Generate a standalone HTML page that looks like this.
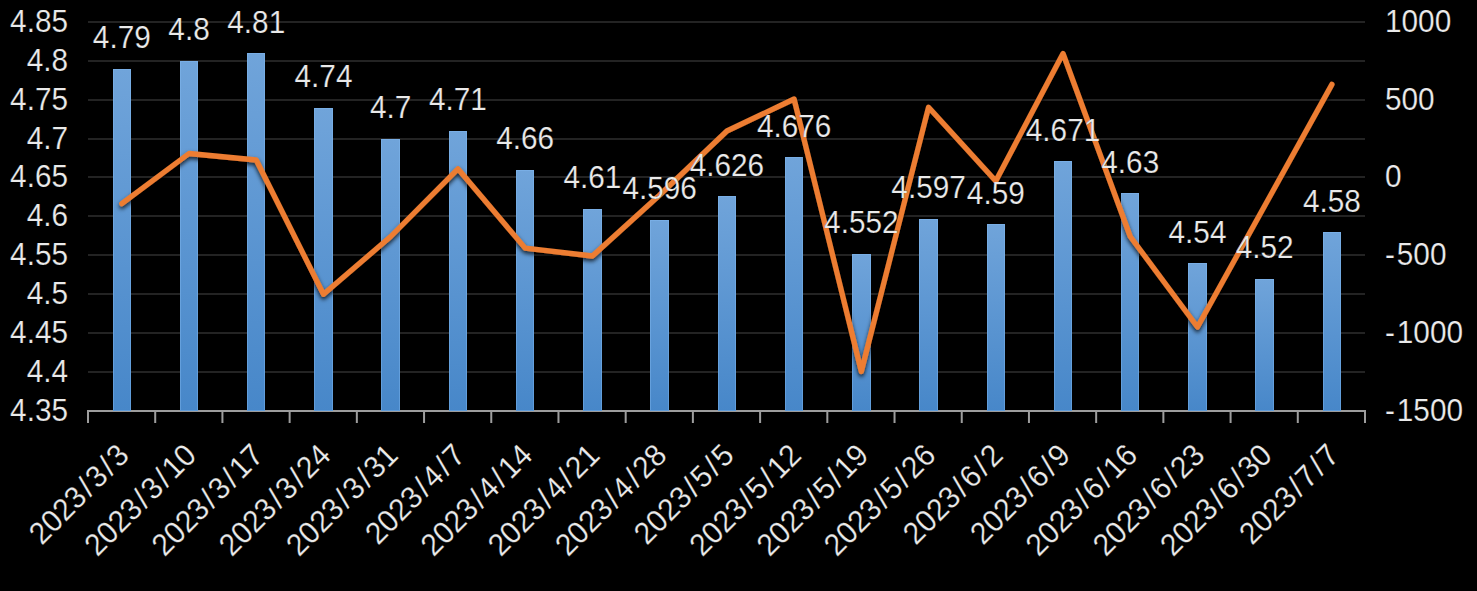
<!DOCTYPE html><html><head><meta charset="utf-8"><style>html,body{margin:0;padding:0;background:#000;width:1477px;height:591px;overflow:hidden}svg{display:block}text{font-family:"Liberation Sans",sans-serif;font-size:31px;fill:#eaeaea;stroke:#000;stroke-width:0.2px}</style></head><body>
<svg width="1477" height="591" viewBox="0 0 1477 591">
<defs><linearGradient id="bg" x1="0" y1="0" x2="0" y2="1"><stop offset="0" stop-color="#70a4da"/><stop offset="1" stop-color="#4787c9"/></linearGradient><filter id="sh" x="-5%" y="-5%" width="110%" height="120%"><feDropShadow dx="0" dy="2.5" stdDeviation="2.2" flood-color="#000" flood-opacity="0.8"/></filter></defs>
<rect width="1477" height="591" fill="#000"/>
<rect x="88.0" y="21" width="1277.0" height="2" fill="#232323"/>
<rect x="88.0" y="60" width="1277.0" height="2" fill="#232323"/>
<rect x="88.0" y="99" width="1277.0" height="2" fill="#232323"/>
<rect x="88.0" y="138" width="1277.0" height="2" fill="#232323"/>
<rect x="88.0" y="176" width="1277.0" height="2" fill="#232323"/>
<rect x="88.0" y="215" width="1277.0" height="2" fill="#232323"/>
<rect x="88.0" y="254" width="1277.0" height="2" fill="#232323"/>
<rect x="88.0" y="293" width="1277.0" height="2" fill="#232323"/>
<rect x="88.0" y="332" width="1277.0" height="2" fill="#232323"/>
<rect x="88.0" y="371" width="1277.0" height="2" fill="#232323"/>
<rect x="87.0" y="410.0" width="1279.0" height="2" fill="#9d9d9d"/>
<rect x="87.00" y="410.0" width="2" height="13.0" fill="#9d9d9d"/>
<rect x="154.21" y="410.0" width="2" height="13.0" fill="#9d9d9d"/>
<rect x="221.42" y="410.0" width="2" height="13.0" fill="#9d9d9d"/>
<rect x="288.63" y="410.0" width="2" height="13.0" fill="#9d9d9d"/>
<rect x="355.84" y="410.0" width="2" height="13.0" fill="#9d9d9d"/>
<rect x="423.05" y="410.0" width="2" height="13.0" fill="#9d9d9d"/>
<rect x="490.26" y="410.0" width="2" height="13.0" fill="#9d9d9d"/>
<rect x="557.47" y="410.0" width="2" height="13.0" fill="#9d9d9d"/>
<rect x="624.68" y="410.0" width="2" height="13.0" fill="#9d9d9d"/>
<rect x="691.89" y="410.0" width="2" height="13.0" fill="#9d9d9d"/>
<rect x="759.11" y="410.0" width="2" height="13.0" fill="#9d9d9d"/>
<rect x="826.32" y="410.0" width="2" height="13.0" fill="#9d9d9d"/>
<rect x="893.53" y="410.0" width="2" height="13.0" fill="#9d9d9d"/>
<rect x="960.74" y="410.0" width="2" height="13.0" fill="#9d9d9d"/>
<rect x="1027.95" y="410.0" width="2" height="13.0" fill="#9d9d9d"/>
<rect x="1095.16" y="410.0" width="2" height="13.0" fill="#9d9d9d"/>
<rect x="1162.37" y="410.0" width="2" height="13.0" fill="#9d9d9d"/>
<rect x="1229.58" y="410.0" width="2" height="13.0" fill="#9d9d9d"/>
<rect x="1296.79" y="410.0" width="2" height="13.0" fill="#9d9d9d"/>
<rect x="1364.00" y="410.0" width="2" height="13.0" fill="#9d9d9d"/>
<rect x="113" y="69.00" width="18" height="342.00" fill="url(#bg)"/>
<rect x="113.50" y="69.50" width="17" height="341.00" fill="none" stroke="rgba(135,190,245,0.4)" stroke-width="1"/>
<rect x="180" y="61.00" width="18" height="350.00" fill="url(#bg)"/>
<rect x="180.50" y="61.50" width="17" height="349.00" fill="none" stroke="rgba(135,190,245,0.4)" stroke-width="1"/>
<rect x="247" y="53.00" width="18" height="358.00" fill="url(#bg)"/>
<rect x="247.50" y="53.50" width="17" height="357.00" fill="none" stroke="rgba(135,190,245,0.4)" stroke-width="1"/>
<rect x="314" y="108.00" width="19" height="303.00" fill="url(#bg)"/>
<rect x="314.50" y="108.50" width="18" height="302.00" fill="none" stroke="rgba(135,190,245,0.4)" stroke-width="1"/>
<rect x="381" y="139.00" width="19" height="272.00" fill="url(#bg)"/>
<rect x="381.50" y="139.50" width="18" height="271.00" fill="none" stroke="rgba(135,190,245,0.4)" stroke-width="1"/>
<rect x="449" y="131.00" width="18" height="280.00" fill="url(#bg)"/>
<rect x="449.50" y="131.50" width="17" height="279.00" fill="none" stroke="rgba(135,190,245,0.4)" stroke-width="1"/>
<rect x="516" y="170.00" width="18" height="241.00" fill="url(#bg)"/>
<rect x="516.50" y="170.50" width="17" height="240.00" fill="none" stroke="rgba(135,190,245,0.4)" stroke-width="1"/>
<rect x="583" y="209.00" width="19" height="202.00" fill="url(#bg)"/>
<rect x="583.50" y="209.50" width="18" height="201.00" fill="none" stroke="rgba(135,190,245,0.4)" stroke-width="1"/>
<rect x="650" y="220.00" width="19" height="191.00" fill="url(#bg)"/>
<rect x="650.50" y="220.50" width="18" height="190.00" fill="none" stroke="rgba(135,190,245,0.4)" stroke-width="1"/>
<rect x="718" y="196.00" width="18" height="215.00" fill="url(#bg)"/>
<rect x="718.50" y="196.50" width="17" height="214.00" fill="none" stroke="rgba(135,190,245,0.4)" stroke-width="1"/>
<rect x="785" y="157.00" width="18" height="254.00" fill="url(#bg)"/>
<rect x="785.50" y="157.50" width="17" height="253.00" fill="none" stroke="rgba(135,190,245,0.4)" stroke-width="1"/>
<rect x="852" y="254.00" width="19" height="157.00" fill="url(#bg)"/>
<rect x="852.50" y="254.50" width="18" height="156.00" fill="none" stroke="rgba(135,190,245,0.4)" stroke-width="1"/>
<rect x="919" y="219.00" width="19" height="192.00" fill="url(#bg)"/>
<rect x="919.50" y="219.50" width="18" height="191.00" fill="none" stroke="rgba(135,190,245,0.4)" stroke-width="1"/>
<rect x="987" y="224.00" width="18" height="187.00" fill="url(#bg)"/>
<rect x="987.50" y="224.50" width="17" height="186.00" fill="none" stroke="rgba(135,190,245,0.4)" stroke-width="1"/>
<rect x="1054" y="161.00" width="18" height="250.00" fill="url(#bg)"/>
<rect x="1054.50" y="161.50" width="17" height="249.00" fill="none" stroke="rgba(135,190,245,0.4)" stroke-width="1"/>
<rect x="1121" y="193.00" width="18" height="218.00" fill="url(#bg)"/>
<rect x="1121.50" y="193.50" width="17" height="217.00" fill="none" stroke="rgba(135,190,245,0.4)" stroke-width="1"/>
<rect x="1188" y="263.00" width="19" height="148.00" fill="url(#bg)"/>
<rect x="1188.50" y="263.50" width="18" height="147.00" fill="none" stroke="rgba(135,190,245,0.4)" stroke-width="1"/>
<rect x="1255" y="279.00" width="19" height="132.00" fill="url(#bg)"/>
<rect x="1255.50" y="279.50" width="18" height="131.00" fill="none" stroke="rgba(135,190,245,0.4)" stroke-width="1"/>
<rect x="1323" y="232.00" width="18" height="179.00" fill="url(#bg)"/>
<rect x="1323.50" y="232.50" width="17" height="178.00" fill="none" stroke="rgba(135,190,245,0.4)" stroke-width="1"/>
<polyline points="121.80,203.60 189.03,153.50 256.26,160.00 323.49,294.30 390.72,236.50 457.95,168.80 525.18,248.10 592.41,256.00 659.64,195.00 726.87,131.00 794.10,99.00 861.33,371.50 928.56,107.20 995.79,181.00 1063.02,53.50 1130.25,236.50 1197.48,327.00 1264.71,205.70 1331.94,84.40" fill="none" stroke="#ed7d31" stroke-width="5.3" stroke-linejoin="round" stroke-linecap="round" filter="url(#sh)"/>
<text transform="translate(68.00,31.80) scale(0.96,1)" text-anchor="end">4.85</text>
<text transform="translate(68.00,70.70) scale(0.96,1)" text-anchor="end">4.8</text>
<text transform="translate(68.00,109.60) scale(0.96,1)" text-anchor="end">4.75</text>
<text transform="translate(68.00,148.50) scale(0.96,1)" text-anchor="end">4.7</text>
<text transform="translate(68.00,187.40) scale(0.96,1)" text-anchor="end">4.65</text>
<text transform="translate(68.00,226.30) scale(0.96,1)" text-anchor="end">4.6</text>
<text transform="translate(68.00,265.20) scale(0.96,1)" text-anchor="end">4.55</text>
<text transform="translate(68.00,304.10) scale(0.96,1)" text-anchor="end">4.5</text>
<text transform="translate(68.00,343.00) scale(0.96,1)" text-anchor="end">4.45</text>
<text transform="translate(68.00,381.90) scale(0.96,1)" text-anchor="end">4.4</text>
<text transform="translate(68.00,420.80) scale(0.96,1)" text-anchor="end">4.35</text>
<text transform="translate(1385.00,31.80) scale(0.96,1)" text-anchor="start">1000</text>
<text transform="translate(1385.00,109.60) scale(0.96,1)" text-anchor="start">500</text>
<text transform="translate(1385.00,187.40) scale(0.96,1)" text-anchor="start">0</text>
<text transform="translate(1385.00,265.20) scale(0.96,1)" text-anchor="start">-<tspan dx="2">500</tspan></text>
<text transform="translate(1385.00,343.00) scale(0.96,1)" text-anchor="start">-<tspan dx="2">1000</tspan></text>
<text transform="translate(1385.00,420.80) scale(0.96,1)" text-anchor="start">-<tspan dx="2">1500</tspan></text>
<text transform="translate(121.80,48.18) scale(0.96,1)" text-anchor="middle">4.79</text>
<text transform="translate(189.03,40.40) scale(0.96,1)" text-anchor="middle">4.8</text>
<text transform="translate(256.26,32.62) scale(0.96,1)" text-anchor="middle">4.81</text>
<text transform="translate(323.49,87.08) scale(0.96,1)" text-anchor="middle">4.74</text>
<text transform="translate(390.72,118.20) scale(0.96,1)" text-anchor="middle">4.7</text>
<text transform="translate(457.95,110.42) scale(0.96,1)" text-anchor="middle">4.71</text>
<text transform="translate(525.18,149.32) scale(0.96,1)" text-anchor="middle">4.66</text>
<text transform="translate(592.41,188.22) scale(0.96,1)" text-anchor="middle">4.61</text>
<text transform="translate(659.64,199.11) scale(0.96,1)" text-anchor="middle">4.596</text>
<text transform="translate(726.87,175.77) scale(0.96,1)" text-anchor="middle">4.626</text>
<text transform="translate(794.10,136.87) scale(0.96,1)" text-anchor="middle">4.676</text>
<text transform="translate(861.33,233.34) scale(0.96,1)" text-anchor="middle">4.552</text>
<text transform="translate(928.56,198.33) scale(0.96,1)" text-anchor="middle">4.597</text>
<text transform="translate(995.79,203.78) scale(0.96,1)" text-anchor="middle">4.59</text>
<text transform="translate(1063.02,140.76) scale(0.96,1)" text-anchor="middle">4.671</text>
<text transform="translate(1130.25,172.66) scale(0.96,1)" text-anchor="middle">4.63</text>
<text transform="translate(1197.48,242.68) scale(0.96,1)" text-anchor="middle">4.54</text>
<text transform="translate(1264.71,258.24) scale(0.96,1)" text-anchor="middle">4.52</text>
<text transform="translate(1331.94,211.56) scale(0.96,1)" text-anchor="middle">4.58</text>
<text transform="translate(122.80,449) rotate(-45) scale(0.96,1)" text-anchor="end" dominant-baseline="central">2023<tspan dx="2.6">/</tspan><tspan dx="2.6">3</tspan><tspan dx="2.6">/</tspan><tspan dx="2.6">3</tspan></text>
<text transform="translate(190.03,449) rotate(-45) scale(0.96,1)" text-anchor="end" dominant-baseline="central">2023<tspan dx="2.6">/</tspan><tspan dx="2.6">3</tspan><tspan dx="2.6">/</tspan><tspan dx="2.6">10</tspan></text>
<text transform="translate(257.26,449) rotate(-45) scale(0.96,1)" text-anchor="end" dominant-baseline="central">2023<tspan dx="2.6">/</tspan><tspan dx="2.6">3</tspan><tspan dx="2.6">/</tspan><tspan dx="2.6">17</tspan></text>
<text transform="translate(324.49,449) rotate(-45) scale(0.96,1)" text-anchor="end" dominant-baseline="central">2023<tspan dx="2.6">/</tspan><tspan dx="2.6">3</tspan><tspan dx="2.6">/</tspan><tspan dx="2.6">24</tspan></text>
<text transform="translate(391.72,449) rotate(-45) scale(0.96,1)" text-anchor="end" dominant-baseline="central">2023<tspan dx="2.6">/</tspan><tspan dx="2.6">3</tspan><tspan dx="2.6">/</tspan><tspan dx="2.6">31</tspan></text>
<text transform="translate(458.95,449) rotate(-45) scale(0.96,1)" text-anchor="end" dominant-baseline="central">2023<tspan dx="2.6">/</tspan><tspan dx="2.6">4</tspan><tspan dx="2.6">/</tspan><tspan dx="2.6">7</tspan></text>
<text transform="translate(526.18,449) rotate(-45) scale(0.96,1)" text-anchor="end" dominant-baseline="central">2023<tspan dx="2.6">/</tspan><tspan dx="2.6">4</tspan><tspan dx="2.6">/</tspan><tspan dx="2.6">14</tspan></text>
<text transform="translate(593.41,449) rotate(-45) scale(0.96,1)" text-anchor="end" dominant-baseline="central">2023<tspan dx="2.6">/</tspan><tspan dx="2.6">4</tspan><tspan dx="2.6">/</tspan><tspan dx="2.6">21</tspan></text>
<text transform="translate(660.64,449) rotate(-45) scale(0.96,1)" text-anchor="end" dominant-baseline="central">2023<tspan dx="2.6">/</tspan><tspan dx="2.6">4</tspan><tspan dx="2.6">/</tspan><tspan dx="2.6">28</tspan></text>
<text transform="translate(727.87,449) rotate(-45) scale(0.96,1)" text-anchor="end" dominant-baseline="central">2023<tspan dx="2.6">/</tspan><tspan dx="2.6">5</tspan><tspan dx="2.6">/</tspan><tspan dx="2.6">5</tspan></text>
<text transform="translate(795.10,449) rotate(-45) scale(0.96,1)" text-anchor="end" dominant-baseline="central">2023<tspan dx="2.6">/</tspan><tspan dx="2.6">5</tspan><tspan dx="2.6">/</tspan><tspan dx="2.6">12</tspan></text>
<text transform="translate(862.33,449) rotate(-45) scale(0.96,1)" text-anchor="end" dominant-baseline="central">2023<tspan dx="2.6">/</tspan><tspan dx="2.6">5</tspan><tspan dx="2.6">/</tspan><tspan dx="2.6">19</tspan></text>
<text transform="translate(929.56,449) rotate(-45) scale(0.96,1)" text-anchor="end" dominant-baseline="central">2023<tspan dx="2.6">/</tspan><tspan dx="2.6">5</tspan><tspan dx="2.6">/</tspan><tspan dx="2.6">26</tspan></text>
<text transform="translate(996.79,449) rotate(-45) scale(0.96,1)" text-anchor="end" dominant-baseline="central">2023<tspan dx="2.6">/</tspan><tspan dx="2.6">6</tspan><tspan dx="2.6">/</tspan><tspan dx="2.6">2</tspan></text>
<text transform="translate(1064.02,449) rotate(-45) scale(0.96,1)" text-anchor="end" dominant-baseline="central">2023<tspan dx="2.6">/</tspan><tspan dx="2.6">6</tspan><tspan dx="2.6">/</tspan><tspan dx="2.6">9</tspan></text>
<text transform="translate(1131.25,449) rotate(-45) scale(0.96,1)" text-anchor="end" dominant-baseline="central">2023<tspan dx="2.6">/</tspan><tspan dx="2.6">6</tspan><tspan dx="2.6">/</tspan><tspan dx="2.6">16</tspan></text>
<text transform="translate(1198.48,449) rotate(-45) scale(0.96,1)" text-anchor="end" dominant-baseline="central">2023<tspan dx="2.6">/</tspan><tspan dx="2.6">6</tspan><tspan dx="2.6">/</tspan><tspan dx="2.6">23</tspan></text>
<text transform="translate(1265.71,449) rotate(-45) scale(0.96,1)" text-anchor="end" dominant-baseline="central">2023<tspan dx="2.6">/</tspan><tspan dx="2.6">6</tspan><tspan dx="2.6">/</tspan><tspan dx="2.6">30</tspan></text>
<text transform="translate(1332.94,449) rotate(-45) scale(0.96,1)" text-anchor="end" dominant-baseline="central">2023<tspan dx="2.6">/</tspan><tspan dx="2.6">7</tspan><tspan dx="2.6">/</tspan><tspan dx="2.6">7</tspan></text>
</svg></body></html>
